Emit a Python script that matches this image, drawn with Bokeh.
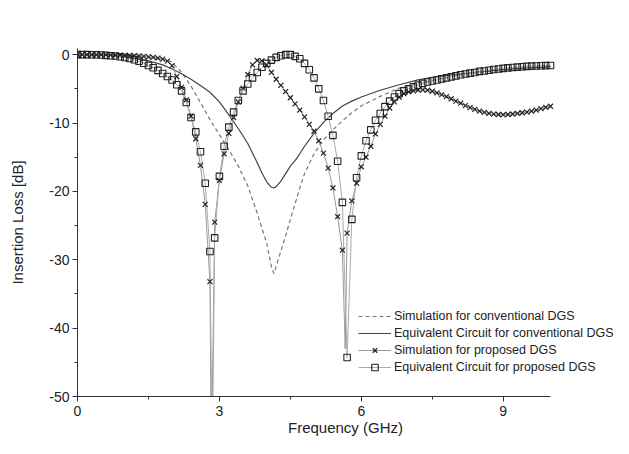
from bokeh.plotting import figure
from bokeh.models import Range1d, SingleIntervalTicker, Legend, LegendItem, PrintfTickFormatter
from bokeh.embed import file_html
from bokeh.resources import INLINE

# ---- data ----
freq = [i / 10 for i in range(101)]  # 0.0 .. 10.0 GHz sample grid

eq_prop_db = [
    0.0, 0.0, 0.0, -0.01, -0.02, -0.05, -0.1, -0.15, -0.2, -0.3,
    -0.42, -0.57, -0.75, -0.97, -1.25, -1.58, -1.92, -2.3, -2.75, -3.2,
    -3.7, -4.4, -5.3, -7.0, -9.2, -11.3, -14.2, -18.8, -28.8, -26.8,
    -17.8, -13.4, -10.6, -8.4, -6.7, -5.3, -4.3, -3.4, -2.6, -1.85,
    -1.27, -0.8, -0.4, -0.15, 0.0, 0.0, -0.25, -0.6, -1.27, -2.2,
    -3.4, -5.0, -6.7, -9.0, -11.8, -15.6, -21.6, -44.3, -24.1, -18.0,
    -14.8, -12.6, -11.0, -9.6, -8.6, -7.6, -6.8, -6.2, -5.7, -5.3,
    -5.0, -4.7, -4.45, -4.2, -4.0, -3.85, -3.7, -3.55, -3.4, -3.25,
    -3.1, -2.95, -2.83, -2.7, -2.6, -2.45, -2.38, -2.28, -2.18, -2.1,
    -2.0, -1.93, -1.87, -1.82, -1.77, -1.72, -1.68, -1.65, -1.62, -1.6,
    -1.58,
]

sim_prop_db = [
    0.0, 0.0, 0.0, 0.0, 0.0, -0.01, -0.02, -0.03, -0.05, -0.07,
    -0.1, -0.12, -0.16, -0.2, -0.25, -0.32, -0.4, -0.5, -0.65, -0.95,
    -1.6, -3.2, -4.8, -6.6, -9.0, -12.3, -16.2, -21.9, -33.2, -24.5,
    -18.4, -14.5, -11.5, -9.2, -6.9, -4.9, -2.9, -1.5, -0.85, -0.9,
    -1.5, -2.6, -3.6, -4.5, -5.4, -6.3, -7.2, -8.1, -9.1, -10.2,
    -11.2, -12.6, -14.4, -16.6, -19.5, -23.7, -28.6, -26.1, -21.4, -18.8,
    -16.4, -15.0, -13.4, -11.6, -10.2, -9.0, -7.8, -6.9, -6.2, -5.7,
    -5.45, -5.3, -5.2, -5.15, -5.2, -5.35, -5.6, -5.85, -6.15, -6.45,
    -6.8, -7.1, -7.45, -7.75, -8.0, -8.25, -8.45, -8.6, -8.7, -8.75,
    -8.78, -8.75, -8.68, -8.6, -8.5, -8.4, -8.25, -8.1, -7.9, -7.7,
    -7.55,
]

# deep nulls of the connecting lines (between marker samples)
sim_null_f = [2.83, 5.66]
sim_null_db = [-60.0, -43.0]
eq_null_f = [2.85]
eq_null_db = [-60.0]

conv_f = [0, 0.5, 1.0, 1.5, 1.8, 2.0, 2.2, 2.4, 2.6, 2.8, 3.0, 3.2, 3.4, 3.6,
          3.8, 3.9, 4.0, 4.1, 4.15, 4.2, 4.3, 4.4, 4.5, 4.6, 4.7, 4.8, 5.0,
          5.2, 5.4, 5.6, 5.8, 6.0, 6.4, 6.8, 7.2, 7.6, 8.0, 8.5, 9.0, 9.5, 10.0]
sim_conv_db = [0.0, -0.02, -0.1, -0.35, -0.6, -1.1, -2.6, -4.6, -7.0, -9.5,
               -11.7, -13.9, -16.3, -19.2, -23.2, -25.4, -27.6, -31.0, -32.0,
               -31.0, -28.7, -26.5, -24.1, -21.8, -19.5, -17.4, -14.5, -12.5,
               -11.0, -9.7, -8.5, -7.5, -6.1, -4.9, -4.2, -3.6, -3.1, -2.6,
               -2.2, -1.9, -1.7]
eq_conv_db = [0.0, -0.05, -0.3, -0.9, -1.5, -2.1, -2.8, -3.6, -4.5, -5.5,
              -6.9, -8.8, -10.8, -13.0, -15.8, -17.3, -18.6, -19.4, -19.5,
              -19.3, -18.5, -17.4, -16.3, -15.5, -14.5, -13.4, -11.5, -9.9,
              -8.6, -7.5, -6.8, -6.2, -5.2, -4.4, -3.7, -3.2, -2.9, -2.5,
              -2.2, -1.95, -1.8]

x_axis_span = (0, 10)
y_axis_span = (-50, 0.9)
x_ticks_interval = 3
y_ticks_interval = 10

labels = ["Simulation for conventional DGS",
          "Equivalent Circuit for conventional DGS",
          "Simulation for proposed DGS",
          "Equivalent Circuit for proposed DGS"]

# line data for proposed series = marker samples + deep null points
def merged(f, v, nf, nv):
    pts = sorted(list(zip(f, v)) + list(zip(nf, nv)))
    return [q[0] for q in pts], [q[1] for q in pts]

sim_line_f, sim_line_db = merged(freq, sim_prop_db, sim_null_f, sim_null_db)
eq_line_f, eq_line_db = merged(freq, eq_prop_db, eq_null_f, eq_null_db)

FONT = "Liberation Sans"
W, H = 613, 438
LEFT, TOP, BOTTOM = 77, 48, 42
AXIS_END_PX = 550  # where the x axis line ends (x = 10 GHz)
px_per_ghz = (AXIS_END_PX - LEFT) / (x_axis_span[1] - x_axis_span[0])
x_view_end = x_axis_span[0] + (W - LEFT) / px_per_ghz  # frame runs to the canvas edge

p = figure(width=W, height=H, output_backend="svg", toolbar_location=None,
           x_range=Range1d(x_axis_span[0], x_view_end),
           y_range=Range1d(*y_axis_span),
           min_border_left=LEFT, min_border_right=0, min_border_top=TOP,
           min_border_bottom=BOTTOM)
p.outline_line_color = None
p.grid.visible = False
p.background_fill_color = "white"
p.border_fill_color = "white"

p.xaxis.ticker = SingleIntervalTicker(interval=x_ticks_interval, num_minor_ticks=2)
p.yaxis.ticker = SingleIntervalTicker(interval=y_ticks_interval, num_minor_ticks=2)
p.xaxis.bounds = x_axis_span
p.yaxis.formatter = PrintfTickFormatter(format="%d")
for ax in (p.xaxis, p.yaxis):
    ax.axis_line_color = "#333333"
    ax.major_tick_line_color = "#333333"
    ax.minor_tick_line_color = "#333333"
    ax.major_tick_in = 0
    ax.major_tick_out = 5
    ax.minor_tick_in = 0
    ax.minor_tick_out = 3
    ax.major_label_text_font = FONT
    ax.major_label_text_font_size = "14px"
    ax.major_label_text_color = "#222222"
    ax.axis_label_text_font = FONT
    ax.axis_label_text_font_size = "15px"
    ax.axis_label_text_font_style = "normal"
    ax.axis_label_text_color = "#222222"
p.xaxis.axis_label = "Frequency (GHz)"
p.yaxis.axis_label = "Insertion Loss [dB]"
p.xaxis.major_label_standoff = 4
p.xaxis.axis_label_standoff = 0
p.yaxis.major_label_standoff = 3
p.yaxis.axis_label_standoff = 20

r_sim_conv = p.line(conv_f, sim_conv_db, line_color="#777777", line_width=1.2,
                    line_dash="4 3")
r_eq_conv = p.line(conv_f, eq_conv_db, line_color="#444444", line_width=1.2)

r_sim_line = p.line(sim_line_f, sim_line_db, line_color="#999999", line_width=1)
r_eq_line = p.line(eq_line_f, eq_line_db, line_color="#aaaaaa", line_width=1)

r_sim_mk = p.scatter(freq, sim_prop_db, marker="x", size=7, line_color="#222222",
                     line_width=1.2)
r_eq_mk = p.scatter(freq, eq_prop_db, marker="square", size=6.5, line_color="#222222",
                    fill_alpha=0, line_width=1.1)

legend = Legend(items=[
    LegendItem(label=labels[0], renderers=[r_sim_conv]),
    LegendItem(label=labels[1], renderers=[r_eq_conv]),
    LegendItem(label=labels[2], renderers=[r_sim_line, r_sim_mk]),
    LegendItem(label=labels[3], renderers=[r_eq_line, r_eq_mk]),
], location=(281, 21))
legend.padding = 0
legend.margin = 0
legend.spacing = 1
legend.glyph_width = 33
legend.glyph_height = 16
legend.label_height = 16
legend.label_standoff = 3
legend.label_text_font = FONT
legend.label_text_font_size = "12.5px"
legend.label_text_color = "#222222"
legend.border_line_alpha = 0
legend.background_fill_alpha = 0
p.add_layout(legend, "center")

open("out.html", "w").write(file_html(p, INLINE))
